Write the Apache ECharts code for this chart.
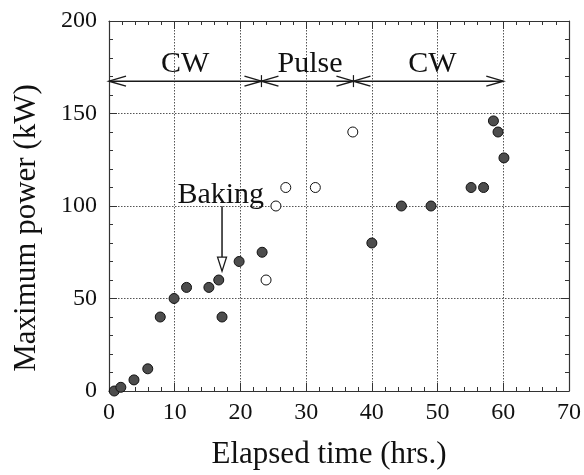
<!DOCTYPE html>
<html>
<head>
<meta charset="utf-8">
<script src="https://cdn.jsdelivr.net/npm/echarts@6/dist/echarts.min.js"></script>
<style>html,body{margin:0;padding:0;background:#fff;}#c{width:584px;height:475px;}</style>
</head>
<body>
<div id="c"></div>
<script>
// ---- data ----
const filledX = [0.8, 1.8, 3.8, 5.9, 7.8, 9.9, 11.8, 15.2, 16.7, 17.2, 19.8, 23.3, 40, 44.5, 49, 55.1, 57, 58.5, 59.2, 60.1];
const filledY = [0, 2, 6, 12, 40, 50, 56, 56, 60, 40, 70, 75, 80, 100, 100, 110, 110, 146, 140, 126];
const openX = [23.9, 25.4, 26.9, 31.4, 37.1];
const openY = [60, 100, 110, 110, 140];
const xTicks = [0, 10, 20, 30, 40, 50, 60, 70];
const yTicks = [0, 50, 100, 150, 200];
const phaseStart = [0, 23.2, 37.2];
const phaseEnd = [23.2, 37.2, 60];
const phaseLabel = ['CW', 'Pulse', 'CW'];
const phaseLabelX = [11.6, 30.6, 49.2];
const phaseArrowY = 167.5;
const phaseLabelY = 176.5;
const bakingText = 'Baking';
const bakingTextX = 17.0;
const bakingTextY = 105.8;
const bakingArrowX = 17.2;
const bakingArrowFrom = 99.8;
const bakingArrowTo = 64.8;

const FONT = '"Liberation Serif", "Times New Roman", serif';
const INK = '#1a1a1a';

const chart = echarts.init(document.getElementById('c'), null, {renderer: 'canvas'});

function annot(params, api) {
  const els = [];
  const L = 17, W = 5;
  for (let i = 0; i < phaseStart.length; i++) {
    const a = api.coord([phaseStart[i], phaseArrowY]);
    const b = api.coord([phaseEnd[i], phaseArrowY]);
    els.push({type: 'line', shape: {x1: a[0], y1: a[1], x2: b[0], y2: b[1]}, style: {stroke: INK, lineWidth: 1.5}});
    els.push({type: 'polyline', shape: {points: [[a[0] + L, a[1] - W], a, [a[0] + L, a[1] + W]]}, style: {stroke: INK, fill: null, lineWidth: 1.5}});
    els.push({type: 'polyline', shape: {points: [[b[0] - L, b[1] - W], b, [b[0] - L, b[1] + W]]}, style: {stroke: INK, fill: null, lineWidth: 1.5}});
    if (i > 0) {
      els.push({type: 'line', shape: {x1: a[0], y1: a[1] - 6, x2: a[0], y2: a[1] + 6}, style: {stroke: INK, lineWidth: 1.2}});
    }
    const t = api.coord([phaseLabelX[i], phaseLabelY]);
    els.push({type: 'text', x: t[0], y: t[1], style: {text: phaseLabel[i], font: '30px ' + FONT, fill: '#111', align: 'center', verticalAlign: 'middle'}});
  }
  const bt = api.coord([bakingTextX, bakingTextY]);
  els.push({type: 'text', x: bt[0], y: bt[1], style: {text: bakingText, font: '30px ' + FONT, fill: '#111', align: 'center', verticalAlign: 'middle'}});
  const p1 = api.coord([bakingArrowX, bakingArrowFrom]);
  const p2 = api.coord([bakingArrowX, bakingArrowTo]);
  const hl = 14, hw = 4.5;
  els.push({type: 'line', shape: {x1: p1[0], y1: p1[1], x2: p2[0], y2: p2[1] - hl}, style: {stroke: INK, lineWidth: 1.5}});
  els.push({type: 'polygon', shape: {points: [[p2[0] - hw, p2[1] - hl], p2, [p2[0] + hw, p2[1] - hl]]}, style: {stroke: INK, fill: '#fff', lineWidth: 1.3}});
  return {type: 'group', children: els};
}

const axisCommon = {
  min: 0,
  axisLine: {show: true, onZero: false, lineStyle: {color: '#333', width: 1.2}},
  axisTick: {show: true, inside: true, length: 8, lineStyle: {color: '#333', width: 1}},
  minorTick: {show: true, splitNumber: 5, length: 4, lineStyle: {color: '#333', width: 1}},
  axisLabel: {color: '#111', fontFamily: FONT, fontSize: 24},
  nameTextStyle: {color: '#111', fontFamily: FONT, fontSize: 31}
};

chart.setOption({
  animation: false,
  backgroundColor: '#fff',
  grid: {left: 109, right: 15, top: 21, bottom: 82},
  xAxis: [
    Object.assign({}, axisCommon, {
      type: 'value', position: 'bottom', max: 70, interval: 10,
      name: 'Elapsed time (hrs.)', nameLocation: 'middle', nameGap: 48,
      nameTextStyle: Object.assign({}, axisCommon.nameTextStyle, {padding: [0, 20, 0, 0]}),
      axisLabel: Object.assign({}, axisCommon.axisLabel, {margin: 10, formatter: v => xTicks.includes(v) ? String(v) : ''}),
      splitLine: {show: true, lineStyle: {color: '#555', type: [1.5, 1.5], width: 1}}
    }),
    Object.assign({}, axisCommon, {
      type: 'value', position: 'top', max: 70, interval: 10,
      axisLabel: {show: false}, splitLine: {show: false}
    })
  ],
  yAxis: [
    Object.assign({}, axisCommon, {
      type: 'value', position: 'left', max: 200, interval: 50,
      name: 'Maximum power (kW)', nameLocation: 'middle', nameGap: 67,
      nameTextStyle: Object.assign({}, axisCommon.nameTextStyle, {padding: [0, 44, 0, 0]}),
      axisLabel: Object.assign({}, axisCommon.axisLabel, {margin: 12, formatter: v => yTicks.includes(v) ? String(v) : ''}),
      splitLine: {show: true, lineStyle: {color: '#555', type: [1.5, 1.5], width: 1}}
    }),
    Object.assign({}, axisCommon, {
      type: 'value', position: 'right', max: 200, interval: 50,
      axisLabel: {show: false}, splitLine: {show: false}
    })
  ],
  series: [
    {
      type: 'custom', renderItem: annot, data: [[0, 0]], clip: false, silent: true, z: 3
    },
    {
      type: 'scatter', clip: false, symbolSize: 10, z: 4,
      data: filledX.map((x, i) => [x, filledY[i]]),
      itemStyle: {color: '#4d4d4d', borderColor: '#111', borderWidth: 1, opacity: 1}
    },
    {
      type: 'scatter', clip: false, symbolSize: 10, z: 4,
      data: openX.map((x, i) => [x, openY[i]]),
      itemStyle: {color: '#fff', borderColor: '#111', borderWidth: 1, opacity: 1}
    }
  ]
});
</script>
</body>
</html>
